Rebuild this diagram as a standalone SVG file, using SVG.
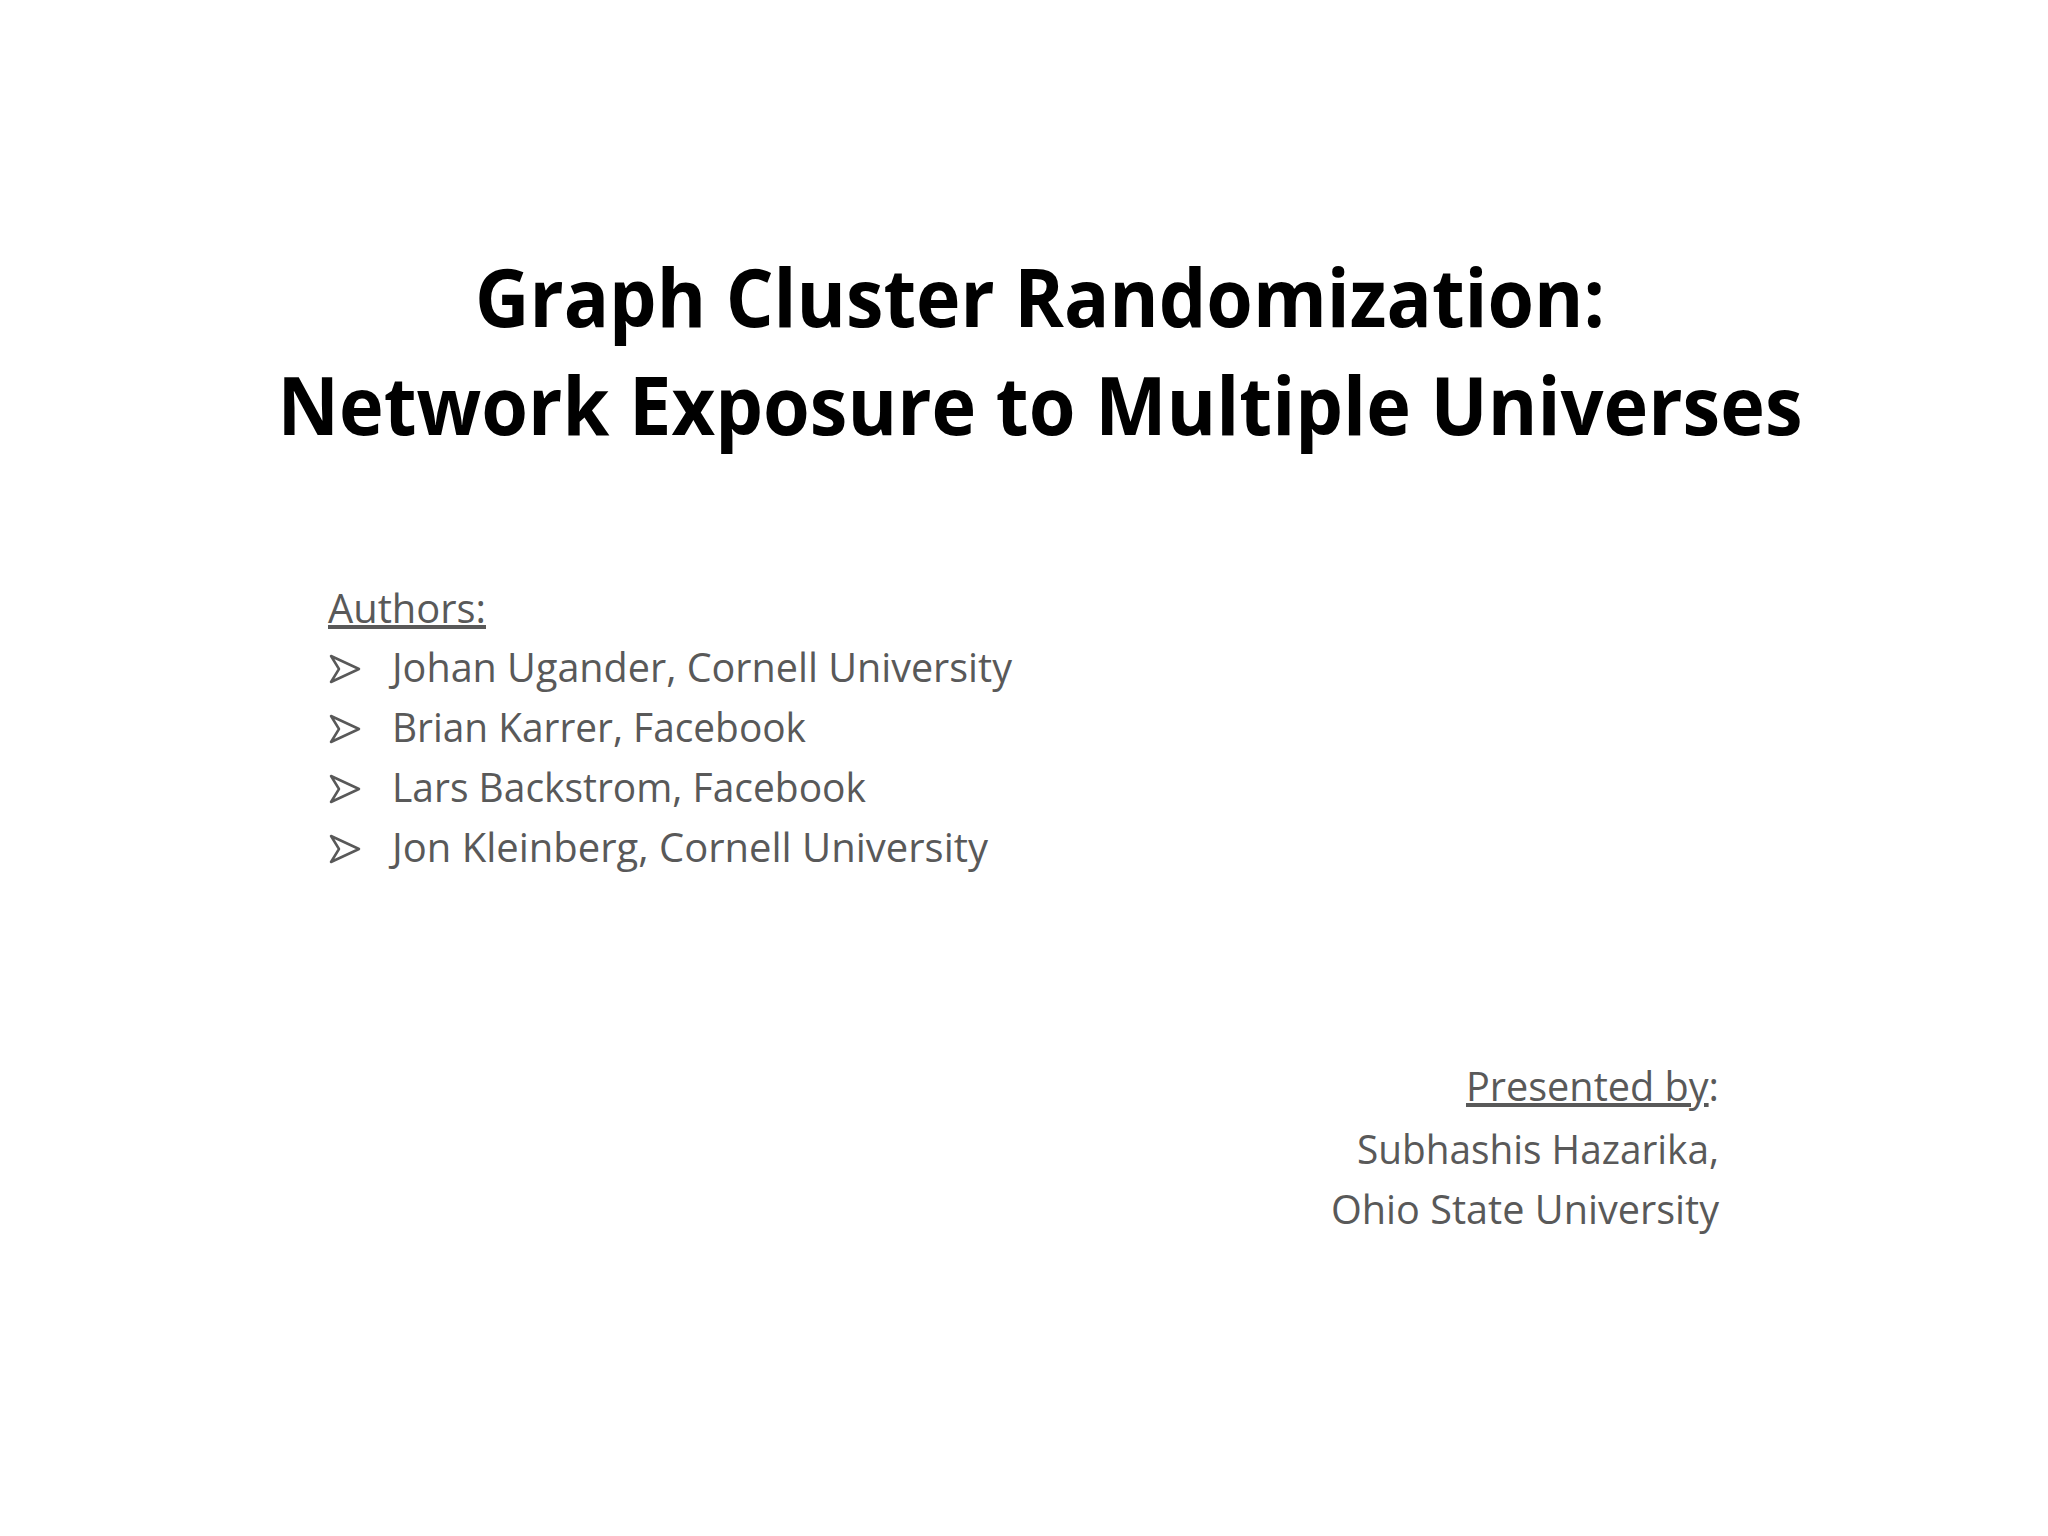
<svg xmlns="http://www.w3.org/2000/svg" width="2048" height="1536" viewBox="0 0 2048 1536">
<style>
.t{font-family:"Open Sans","Liberation Sans",sans-serif;font-weight:bold;font-size:80px;fill:#000}
.b{font-family:"Open Sans","Liberation Sans",sans-serif;font-size:40px;fill:#595959}
.a{fill:none;stroke:#595959;stroke-width:2.5;stroke-linejoin:round}
</style>
<rect width="2048" height="1536" fill="#fff"/>
<g id="title">
<text class="t" x="1040" y="327" text-anchor="middle" textLength="1130" lengthAdjust="spacingAndGlyphs">Graph Cluster Randomization:</text>
<text class="t" x="1040" y="435" text-anchor="middle" textLength="1525" lengthAdjust="spacingAndGlyphs">Network Exposure to Multiple Universes</text>
</g>
<g id="authors">
<text class="b" x="328" y="623" textLength="158" lengthAdjust="spacingAndGlyphs" text-decoration="underline">Authors:</text>
<text class="b" x="392" y="682" textLength="620" lengthAdjust="spacingAndGlyphs">Johan Ugander, Cornell University</text>
<text class="b" x="392" y="742" textLength="414" lengthAdjust="spacingAndGlyphs">Brian Karrer, Facebook</text>
<text class="b" x="392" y="802" textLength="474" lengthAdjust="spacingAndGlyphs">Lars Backstrom, Facebook</text>
<text class="b" x="392" y="862" textLength="596" lengthAdjust="spacingAndGlyphs">Jon Kleinberg, Cornell University</text>
<g id="bullets">
<path class="a" d="M331 656 L359 669 L331 682 L339 669 Z"/>
<path class="a" d="M331 716 L359 729 L331 742 L339 729 Z"/>
<path class="a" d="M331 776 L359 789 L331 802 L339 789 Z"/>
<path class="a" d="M331 836 L359 849 L331 862 L339 849 Z"/>
</g>
</g>
<g id="presenter">
<text class="b" x="1719" y="1101" text-anchor="end" textLength="253" lengthAdjust="spacingAndGlyphs"><tspan text-decoration="underline">Presented by</tspan>:</text>
<text class="b" x="1719" y="1164" text-anchor="end" textLength="362" lengthAdjust="spacingAndGlyphs">Subhashis Hazarika,</text>
<text class="b" x="1719" y="1224" text-anchor="end" textLength="388" lengthAdjust="spacingAndGlyphs">Ohio State University</text>
</g>
</svg>
